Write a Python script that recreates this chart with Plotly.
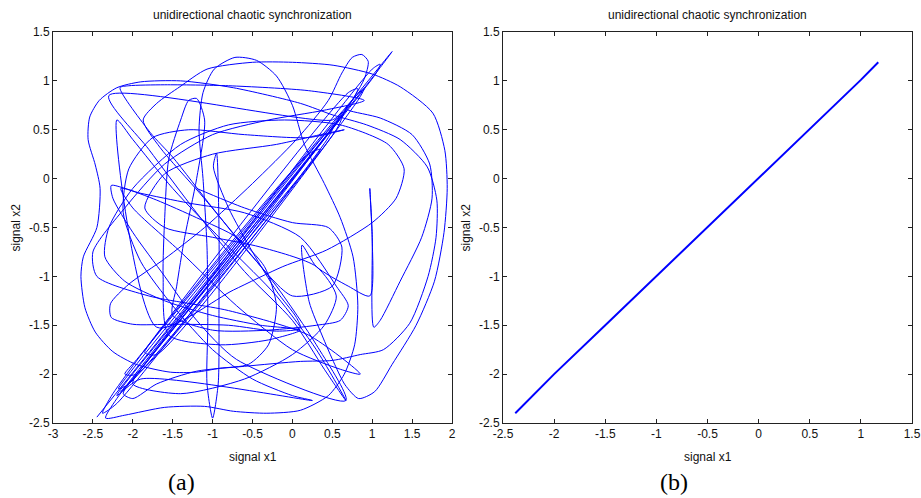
import plotly.graph_objects as go

# ---------------- data ----------------
# (a) drive signal x1 vs response signal x2 before synchronization (traced waypoints)
x1_a = [
    -2.45, 1.25, 1.00, -2.20,
    -2.34, -2.10, -1.60, -1.10, -0.74, -0.32, 0.10, 0.45, 0.65, 0.78, 0.82, 0.76, 0.60, 0.40,
    0.15, 0.00, -0.20, -0.45, -0.72, -0.98, -1.12, -1.17, -1.12, -1.07, -1.06, -1.07, -1.00, -0.93, -0.92, -0.92, -0.95, -0.99,
    -0.80, -0.50, -0.20, 0.05, 0.10, -0.20, -0.80, -1.50, -2.00, -2.27, -2.28, -2.05, -1.60,
    -1.10, -0.50, 0.05, 0.45, 0.62, 0.75, 0.87, 0.95, 0.90, 0.60,
    -1.90, -2.12, -2.00, -1.70, -1.20, -0.60, 0.10, 0.50, 0.85, 1.14, 1.47, 1.70, 1.80, 1.81, 1.69, 1.35, 0.93, 0.51, 0.10,
    -0.74, -1.40, -1.90, -2.20, -2.42, -2.54, -2.56, -2.47, -2.41, -2.45, -2.62, -2.65, -2.60, -2.47, -2.25, -1.96, -1.53, -1.21, -0.91, -0.55,
    -0.30, -0.20, -0.35, -0.70, -1.20, -1.70, -2.10, -2.27, -2.25, -2.00, -1.60, -1.20, -0.70,
    0.67, 0.30, -0.20, -0.74, -1.16, -1.66, -1.87, -1.70, -1.41, -1.07, -0.50, 0.00, 0.51, 1.00, 1.35, 1.76, 1.91, 1.94, 1.90,
    1.78, 1.55, 1.25, 1.03, 0.83, 0.66, 0.53, 0.37, 0.21, 0.12,
    0.30, 0.70, 0.97, 1.00, 0.97, 1.00, 1.02, 1.10, 1.35, 1.62, 1.75, 1.72, 1.50, 1.10, 0.70, 0.68, 0.55,
    -2.05, -2.18, -2.05, 0.40, 0.52, 0.45, -1.95, -2.10, -1.95, 0.80, 0.90, 0.82, -1.70, -1.85, -1.75, 0.20, 0.35, 0.25,
    -1.80, -2.00, -1.40, -0.60, 0.00, 0.40, 0.55, 0.30,
    -0.40, -1.00, -1.60, -1.85, -1.60, -1.00, -0.20, 0.35, 0.65,
    0.20, -0.60, -1.30, -1.75, -2.05, -2.12, -1.90, -1.50, -1.00, -0.50, 0.00, 0.25,
    -1.90, -2.20, -2.10, 1.05, 1.10, 1.00, -2.00, -2.15, -1.95, 0.75, 0.82, 0.70, -2.25, -2.38, -2.20, 0.55, 0.62, 0.50,
    -2.30, -1.80, -1.20, -0.60, 0.00, 0.40, 0.67, 0.30, -0.20, -0.80, -1.50, -2.00, -2.20,
    -1.70, -0.74, -0.12, 0.43, 1.00, 1.30, 1.40, 1.20,
    0.60, -0.10, -0.80, -1.40, -2.00, -2.30, -2.35, -2.10, -1.60, -1.00, -0.40, 0.10,
    -0.30, -0.90, -1.55, -1.62, -1.60, -1.55, -1.40, -1.30, -1.20, -1.10, -1.20, -1.35, -1.45, -1.50,
    -1.00, -0.30, 0.30, 0.60, 0.70, 0.55, 0.10, -0.60, -1.30, -1.90, -2.15, -2.00, -1.40, -0.70, 0.00, 0.60, 0.85,
    0.20, -0.80, -1.80, -2.45, -2.50, -2.10, -1.60, -1.00, -0.30, 0.40, 0.90,
    0.20, -0.80, -1.60, -2.05, -2.16, -1.78, -1.50, -1.00, -0.50, 0.00, 0.50, 0.62, 0.45, 0.00, -0.60, -1.20,
]
x2_a = [
    -2.44, 1.30, 1.03, -2.25,
    -2.45, -2.42, -2.34, -2.33, -2.38, -2.40, -2.37, -2.22, -2.00, -1.70, -1.30, -0.80, -0.40, -0.05,
    0.35, 0.75, 1.05, 1.21, 1.24, 1.12, 0.88, 0.50, 0.00, -0.70, -1.50, -2.10, -2.45, -2.10, -1.30, -0.50, 0.26, 0.12,
    -0.30, -0.75, -1.15, -1.42, -1.53, -1.56, -1.50, -1.49, -1.49, -1.42, -1.28, -1.08, -0.82,
    -0.50, -0.05, 0.40, 0.80, 1.08, 1.24, 1.27, 1.20, 1.02, 0.62,
    -1.95, -2.20, -2.25, -2.10, -1.97, -1.92, -1.87, -1.86, -1.80, -1.75, -1.48, -1.00, -0.60, -0.22, 0.12, 0.40, 0.55, 0.65, 0.77,
    0.93, 1.00, 0.99, 0.93, 0.80, 0.63, 0.40, 0.14, -0.10, -0.50, -0.80, -1.00, -1.32, -1.57, -1.77, -1.90, -1.98, -1.98, -1.94, -1.90,
    -1.70, -1.30, -0.90, -0.60, -0.40, -0.22, -0.10, -0.07, -0.20, -0.55, -1.00, -1.45, -1.85,
    -2.27, -1.70, -1.10, -0.56, -0.15, 0.32, 0.60, 0.77, 0.94, 1.12, 1.19, 1.19, 1.16, 1.07, 0.94, 0.67, 0.29, -0.10, -0.55,
    -1.05, -1.50, -1.90, -2.18, -2.25, -2.11, -1.90, -1.60, -1.26, -0.68,
    -0.90, -1.10, -1.20, -0.60, -0.10, -0.60, -1.52, -1.45, -1.05, -0.60, -0.20, 0.15, 0.45, 0.62, 0.70, 0.72, 0.50,
    -2.10, -2.15, -2.00, 0.45, 0.55, 0.42, -2.00, -2.00, -1.85, 0.85, 0.92, 0.80, -1.80, -1.78, -1.65, 0.25, 0.30, 0.18,
    -1.85, -2.10, -2.20, -2.05, -1.80, -1.50, -1.20, -0.90,
    -0.70, -0.60, -0.50, -0.30, 0.05, 0.25, 0.35, 0.45, 0.50,
    0.42, 0.45, 0.50, 0.42, 0.10, -0.35, -0.85, -1.30, -1.75, -2.05, -2.22, -2.27,
    -2.05, -2.22, -2.10, 1.08, 1.17, 1.12, -2.05, -2.18, -2.00, 0.80, 0.92, 0.88, -2.20, -2.40, -2.30, 0.58, 0.68, 0.60,
    0.85, 0.30, -0.35, -0.95, -1.45, -1.95, -2.27, -1.75, -1.20, -0.70, -0.10, 0.40, 0.60,
    -1.52, -1.14, -0.90, -0.73, -0.45, -0.20, 0.10, 0.35,
    0.55, 0.60, 0.55, 0.35, -0.10, -0.50, -0.80, -1.05, -1.25, -1.40, -1.50, -1.55,
    -1.65, -1.70, -1.60, -1.00, -0.40, 0.20, 0.60, 0.80, 0.82, 0.60, 0.00, -0.60, -1.10, -1.40,
    -1.55, -1.55, -1.50, -1.45, -1.30, -1.10, -0.60, -0.35, -0.25, -0.15, -0.10, -0.30, -0.75, -1.30, -1.75, -1.95, -2.00,
    -1.60, -1.35, -1.20, -1.00, -0.75, -0.30, 0.15, 0.45, 0.60, 0.70, 0.80,
    0.90, 0.95, 0.96, 0.95, 0.93, 0.47, 0.22, -0.30, -0.80, -1.20, -1.10, -0.70, -0.50, -0.45, -0.30, -0.10,
]

# (b) after unidirectional coupling: x2 follows x1
x1_b = [-2.38, -2.0, -1.5, -1.0, -0.5, 0.0, 0.5, 1.0, 1.17]
x2_b = [-2.40, -2.0, -1.5, -1.0, -0.5, 0.0, 0.5, 1.01, 1.19]

xa_ticks = [-3, -2.5, -2, -1.5, -1, -0.5, 0, 0.5, 1, 1.5, 2]
xa_labels = ["-3", "-2.5", "-2", "-1.5", "-1", "-0.5", "0", "0.5", "1", "1.5", "2"]
xb_ticks = [-2.5, -2, -1.5, -1, -0.5, 0, 0.5, 1, 1.5]
xb_labels = ["-2.5", "-2", "-1.5", "-1", "-0.5", "0", "0.5", "1", "1.5"]
y_ticks = [-2.5, -2, -1.5, -1, -0.5, 0, 0.5, 1, 1.5]
y_labels = ["-2.5", "-2", "-1.5", "-1", "-0.5", "0", "0.5", "1", "1.5"]

title_text = "unidirectional chaotic synchronization"

# ---------------- figure ----------------
W, H = 921, 498
fig = go.Figure()
fig.add_trace(go.Scatter(x=x1_a, y=x2_a, mode="lines", xaxis="x", yaxis="y",
                         line=dict(color="#0000ff", width=1, shape="spline", smoothing=0.7),
                         showlegend=False, hoverinfo="skip"))
fig.add_trace(go.Scatter(x=x1_b, y=x2_b, mode="lines", xaxis="x2", yaxis="y2",
                         line=dict(color="#0000ff", width=2),
                         showlegend=False, hoverinfo="skip"))

font_tick = dict(family="Liberation Sans, Arial, sans-serif", size=12, color="#111111")
axis_common = dict(showgrid=False, zeroline=False, showline=True, linecolor="#222222", linewidth=1,
                   mirror="ticks", ticks="inside", ticklen=4, tickcolor="#222222",
                   tickfont=font_tick, tickmode="array", automargin=False)

ytop, ybot = 1 - 32 / H, 1 - 423 / H
fig.update_layout(
    width=W, height=H,
    margin=dict(l=0, r=0, t=0, b=0, autoexpand=False),
    paper_bgcolor="white", plot_bgcolor="white",
    xaxis=dict(domain=[53 / W, 452 / W], range=[-3, 2], tickvals=xa_ticks, ticktext=xa_labels,
               anchor="y", **axis_common),
    yaxis=dict(domain=[ybot, ytop], range=[-2.5, 1.5], tickvals=y_ticks, ticktext=y_labels,
               anchor="x", **axis_common),
    xaxis2=dict(domain=[503 / W, 912 / W], range=[-2.5, 1.5], tickvals=xb_ticks, ticktext=xb_labels,
                anchor="y2", **axis_common),
    yaxis2=dict(domain=[ybot, ytop], range=[-2.5, 1.5], tickvals=y_ticks, ticktext=y_labels,
                anchor="x2", **axis_common),
)

ann_font = dict(family="Liberation Sans, Arial, sans-serif", size=12, color="#111111")
anns = []
for cx in [(53 + 452) / 2, (503 + 912) / 2]:
    anns.append(dict(text=title_text, x=cx / W, y=1 - 15 / H, xref="paper", yref="paper",
                     showarrow=False, font=ann_font, xanchor="center", yanchor="middle"))
    anns.append(dict(text="signal x1", x=cx / W, y=1 - 457 / H, xref="paper", yref="paper",
                     showarrow=False, font=ann_font, xanchor="center", yanchor="middle"))
for lx in [15, 465]:
    anns.append(dict(text="signal x2", x=lx / W, y=(ytop + ybot) / 2, xref="paper", yref="paper",
                     showarrow=False, font=ann_font, textangle=-90, xanchor="center", yanchor="middle"))
for txt, lx in [("(a)", 181), ("(b)", 674)]:
    anns.append(dict(text=txt, x=lx / W, y=1 - 482 / H, xref="paper", yref="paper", showarrow=False,
                     font=dict(family="Liberation Serif, Times New Roman, serif", size=24, color="black"),
                     xanchor="center", yanchor="middle"))
fig.update_layout(annotations=anns)

fig.write_html("out.html", config={"displayModeBar": False},
               post_script="document.body.style.margin='0';document.body.style.overflow='hidden';")
